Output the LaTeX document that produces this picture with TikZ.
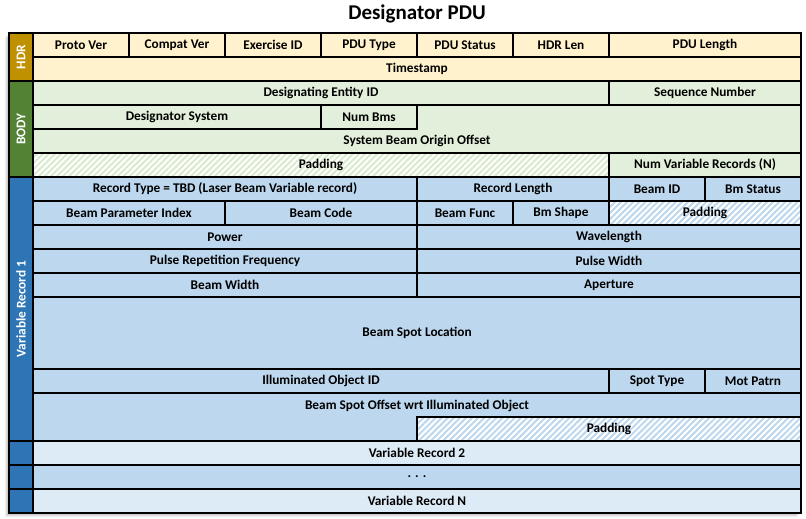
\documentclass[tikz,border=0pt]{standalone}
\usepackage{fontspec}
\setmainfont{Carlito}
\usetikzlibrary{patterns.meta}
\definecolor{hdrfill}{HTML}{FFF2CC}
\definecolor{hdrside}{HTML}{BF9000}
\definecolor{bodyfill}{HTML}{E2EFDA}
\definecolor{bodyhatch}{HTML}{D9EACE}
\definecolor{bodyside}{HTML}{548235}
\definecolor{vrfill}{HTML}{BDD7EE}
\definecolor{vrlight}{HTML}{DDEBF7}
\definecolor{vrside}{HTML}{2E75B6}
\tikzset{
  fld/.style={draw=black, line width=1.2pt, anchor=north west, inner sep=0pt, outer sep=0pt,
    font=\fontsize{13.3}{15}\selectfont\bfseries, text=black},
  sidebox/.style={fld, text=white},
  hdrcell/.style={fill=hdrfill},
  bodycell/.style={fill=bodyfill},
  vrcell/.style={fill=vrfill},
  vrlcell/.style={fill=vrlight},
  bodypad/.style={preaction={fill=white}, pattern={Lines[angle=45,distance=4.3pt,line width=2pt]}, pattern color=bodyhatch},
  vrpad/.style={preaction={fill=white}, pattern={Lines[angle=45,distance=4.3pt,line width=2pt]}, pattern color=vrfill},
  lbl/.style={font=\fontsize{13.3}{15}\selectfont\bfseries, inner sep=0pt}
}
% name, x1, y1, x2, y2, style, text
\newcommand\fld[7]{\node[fld,#6,minimum width={#4pt-#2pt},minimum height={#5pt-#3pt}] (#1) at (#2,#3) {#7};}
\begin{document}
\begin{tikzpicture}[x=1pt,y=-1pt]
\useasboundingbox[fill=white] (0,0) rectangle (806,519);
% shadow
\foreach \i in {1,2,3,4}{
  \fill[black, opacity=0.07] (9-\i,33+\i) rectangle (801-\i,513+\i);
}
\node[font=\fontsize{21}{24}\selectfont\bfseries, inner sep=0pt] (title) at (417,14) {Designator PDU};
% HDR
\fld{hdr}{9}{33}{33}{81}{sidebox,fill=hdrside}{\rotatebox{90}{HDR}}
\fld{pv}{33}{33}{129}{57}{hdrcell}{Proto Ver}
\fld{cv}{129}{33}{225}{57}{hdrcell}{Compat Ver}
\fld{ex}{225}{33}{321}{57}{hdrcell}{Exercise ID}
\fld{pt}{321}{33}{417}{57}{hdrcell}{PDU Type}
\fld{ps}{417}{33}{513}{57}{hdrcell}{PDU Status}
\fld{hl}{513}{33}{609}{57}{hdrcell}{HDR Len}
\fld{pl}{609}{33}{801}{57}{hdrcell}{PDU Length}
\fld{ts}{33}{57}{801}{81}{hdrcell}{Timestamp}
% BODY
\fld{body}{9}{81}{33}{177}{sidebox,fill=bodyside}{\rotatebox{90}{BODY}}
\fld{dei}{33}{81}{609}{105}{bodycell}{Designating Entity ID}
\fld{sn}{609}{81}{801}{105}{bodycell}{Sequence Number}
\fld{sbo}{33}{105}{801}{153}{bodycell}{}
\node[lbl] (sbot) at (417,140.5) {System Beam Origin Offset};
\fld{ds}{33}{105}{321}{129}{bodycell}{Designator System}
\fld{nb}{321}{105}{417}{129}{bodycell}{Num Bms}
\fld{bpad}{33}{153}{609}{177}{bodypad}{Padding}
\fld{nvr}{609}{153}{801}{177}{bodycell}{Num Variable Records (N)}
% Variable record 1
\fld{vr1}{9}{177}{33}{441}{sidebox,fill=vrside}{\rotatebox{90}{Variable Record 1}}
\fld{rt}{33}{177}{417}{201}{vrcell}{Record Type = TBD (Laser Beam Variable record)}
\fld{rl}{417}{177}{609}{201}{vrcell}{Record Length}
\fld{bid}{609}{177}{705}{201}{vrcell}{Beam ID}
\fld{bst}{705}{177}{801}{201}{vrcell}{Bm Status}
\fld{bpi}{33}{201}{225}{225}{vrcell}{Beam Parameter Index}
\fld{bc}{225}{201}{417}{225}{vrcell}{Beam Code}
\fld{bf}{417}{201}{513}{225}{vrcell}{Beam Func}
\fld{bsh}{513}{201}{609}{225}{vrcell}{Bm Shape}
\fld{vpad1}{609}{201}{801}{225}{vrpad}{Padding}
\fld{pw}{33}{225}{417}{249}{vrcell}{Power}
\fld{wl}{417}{225}{801}{249}{vrcell}{Wavelength}
\fld{prf}{33}{249}{417}{273}{vrcell}{Pulse Repetition Frequency}
\fld{pwd}{417}{249}{801}{273}{vrcell}{Pulse Width}
\fld{bw}{33}{273}{417}{297}{vrcell}{Beam Width}
\fld{ap}{417}{273}{801}{297}{vrcell}{Aperture}
\fld{bsl}{33}{297}{801}{369}{vrcell}{Beam Spot Location}
\fld{ioi}{33}{369}{609}{393}{vrcell}{Illuminated Object ID}
\fld{st}{609}{369}{705}{393}{vrcell}{Spot Type}
\fld{mp}{705}{369}{801}{393}{vrcell}{Mot Patrn}
\fld{bso}{33}{393}{801}{441}{vrcell}{}
\node[lbl] (bsot) at (417,405.5) {Beam Spot Offset wrt Illuminated Object};
\fld{vpad2}{417}{417}{801}{441}{vrpad}{Padding}
% further records
\fld{s2}{9}{441}{33}{465}{sidebox,fill=vrside}{}
\fld{vr2}{33}{441}{801}{465}{vrlcell}{Variable Record 2}
\fld{s3}{9}{465}{33}{489}{sidebox,fill=vrside}{}
\fld{dots}{33}{465}{801}{489}{vrcell}{. . .}
\fld{s4}{9}{489}{33}{513}{sidebox,fill=vrside}{}
\fld{vrn}{33}{489}{801}{513}{vrlcell}{Variable Record N}
\end{tikzpicture}
\end{document}
